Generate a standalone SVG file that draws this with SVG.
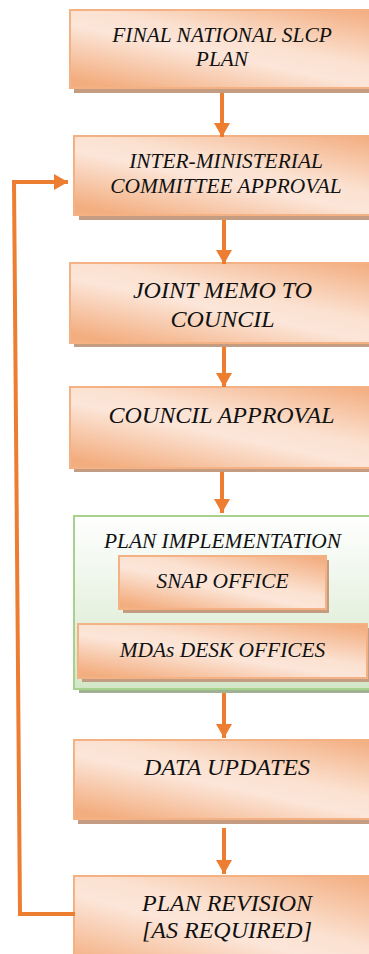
<svg xmlns="http://www.w3.org/2000/svg" width="369" height="954" viewBox="0 0 369 954">
<defs>
<linearGradient id="og" x1="1" y1="0" x2="0.15" y2="1">
<stop offset="0" stop-color="#f2a878"/>
<stop offset="0.45" stop-color="#fbe1d0"/>
<stop offset="0.6" stop-color="#fce6d9"/>
<stop offset="1" stop-color="#f3ae80"/>
</linearGradient>
<linearGradient id="gg" x1="0" y1="0" x2="0" y2="1">
<stop offset="0" stop-color="#ffffff"/>
<stop offset="1" stop-color="#d3e7c8"/>
</linearGradient>
<marker id="ah" viewBox="0 0 14 16" refX="14" refY="8" markerWidth="14" markerHeight="16" markerUnits="userSpaceOnUse" orient="auto">
<path d="M0,0 L14,8 L0,16 z" fill="#ed7d31"/>
</marker>
<style>
.box{fill:url(#og);stroke:#f4b183;stroke-width:2}
.sh{fill:#c39c82}
.gsh{fill:#9fb393}
.gbox{fill:url(#gg);stroke:#a9d18e;stroke-width:2}
.t{font-family:"Liberation Serif","Times New Roman",serif;font-style:italic;fill:#111;text-anchor:middle}
.s21{font-size:21.4px}
.s24{font-size:24px}
.ar{stroke:#ed7d31;stroke-width:4;fill:none;marker-end:url(#ah)}
</style>
</defs>
<g id="n1">
<rect class="sh" x="74" y="14" width="320" height="79"/>
<rect class="box" x="70" y="10" width="320" height="78"/>
<text class="t s21" x="222" y="42">FINAL NATIONAL SLCP</text>
<text class="t s21" x="222" y="66">PLAN</text>
</g>
<g id="n2">
<rect class="sh" x="79" y="141" width="320" height="79"/>
<rect class="box" x="74" y="136" width="320" height="79"/>
<text class="t s21" x="226" y="168">INTER-MINISTERIAL</text>
<text class="t s21" x="226" y="193">COMMITTEE APPROVAL</text>
</g>
<g id="n3">
<rect class="sh" x="74" y="267" width="320" height="80"/>
<rect class="box" x="70" y="263" width="320" height="80"/>
<text class="t s24" x="222.5" y="298">JOINT MEMO TO</text>
<text class="t s24" x="222.5" y="327">COUNCIL</text>
</g>
<g id="n4">
<rect class="sh" x="74" y="391" width="320" height="81"/>
<rect class="box" x="70" y="387" width="320" height="81"/>
<text class="t s24" x="221.5" y="423">COUNCIL APPROVAL</text>
</g>
<g id="n5">
<rect class="gsh" x="79" y="520" width="320" height="173"/>
<rect class="gbox" x="74" y="516" width="320" height="173"/>
<text class="t s21" x="222.5" y="548">PLAN IMPLEMENTATION</text>
<g id="n5a">
<rect class="sh" x="123" y="560" width="206" height="53"/>
<rect class="box" x="119" y="556" width="207" height="53"/>
<text class="t s21" x="222.5" y="588">SNAP OFFICE</text>
</g>
<g id="n5b">
<rect class="sh" x="82" y="628" width="289" height="54"/>
<rect class="box" x="78" y="624" width="289" height="54"/>
<text class="t s21" x="222.5" y="657">MDAs DESK OFFICES</text>
</g>
</g>
<g id="n6">
<rect class="sh" x="78" y="744" width="320" height="80"/>
<rect class="box" x="74" y="740" width="320" height="79"/>
<text class="t s24" x="227" y="775">DATA UPDATES</text>
</g>
<g id="n7">
<rect class="sh" x="78" y="880" width="320" height="100"/>
<rect class="box" x="74" y="876" width="320" height="100"/>
<text class="t s24" x="227" y="911">PLAN REVISION</text>
<text class="t s24" x="227" y="938">[AS REQUIRED]</text>
</g>
<g id="connectors">
<path class="ar" d="M222,93 L222,137"/>
<path class="ar" d="M224,220 L224,264"/>
<path class="ar" d="M224,347 L224,387"/>
<path class="ar" d="M222,472 L222,513"/>
<path class="ar" d="M224,693 L224,738"/>
<path class="ar" d="M224,828 L224,874"/>
<path class="ar" stroke-linejoin="miter" d="M75,914 L20,914 L14,182 L68,182"/>
</g>
</svg>
